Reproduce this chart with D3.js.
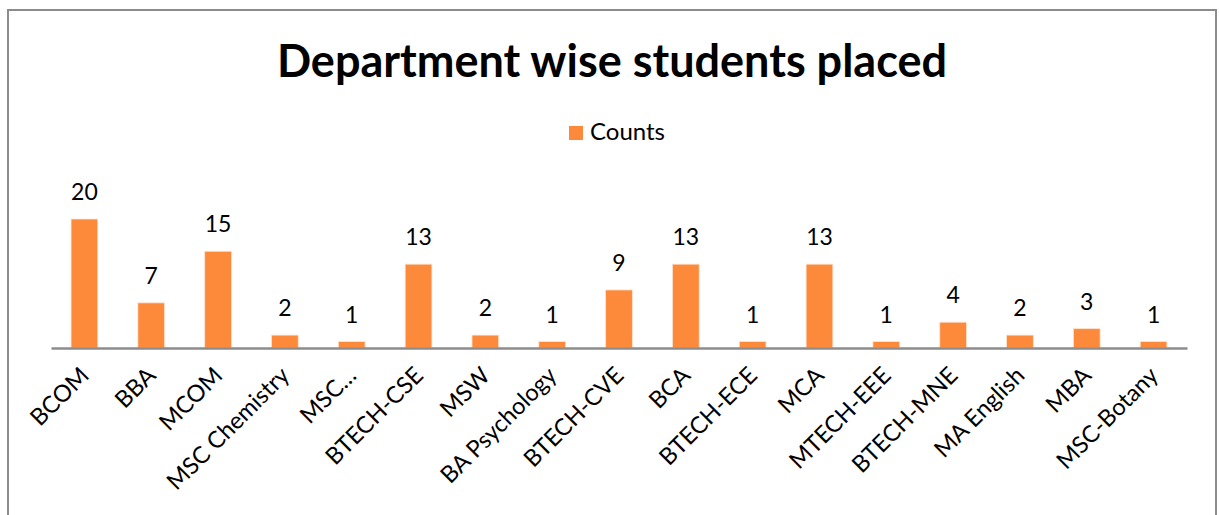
<!DOCTYPE html>
<html>
<head>
<meta charset="utf-8">
<script src="https://cdn.jsdelivr.net/npm/d3@7"></script>
<style>
  html, body { margin: 0; padding: 0; background: #fff; }
  svg { display: block; font-family: Lato, "Open Sans", sans-serif; }
</style>
</head>
<body>
<div id="chart"></div>
<script>
const departments = ["BCOM", "BBA", "MCOM", "MSC Chemistry", "MSC…", "BTECH-CSE", "MSW",
  "BA Psychology", "BTECH-CVE", "BCA", "BTECH-ECE", "MCA", "MTECH-EEE", "BTECH-MNE",
  "MA English", "MBA", "MSC-Botany"];
const counts = [20, 7, 15, 2, 1, 13, 2, 1, 9, 13, 1, 13, 1, 4, 2, 3, 1];
const seriesName = "Counts";
const chartTitle = "Department wise students placed";

const width = 1219;
const height = 515;
const orange = "#fd8a3b";

const svg = d3.select("#chart").append("svg")
    .attr("width", width)
    .attr("height", height);

// chart border (bottom runs off the picture)
svg.append("rect")
    .attr("x", 8).attr("y", 10)
    .attr("width", 1208).attr("height", 540)
    .attr("fill", "none")
    .attr("stroke", "#8c8c8c")
    .attr("stroke-width", 2);

const x = d3.scaleBand()
    .domain(departments)
    .range([51, 1187])
    .paddingInner(0.6)
    .paddingOuter(0.3);

const y = d3.scaleLinear()
    .domain([0, 20])
    .range([348, 219]);

// title
svg.append("text")
    .attr("x", 612).attr("y", 77)
    .attr("text-anchor", "middle")
    .attr("font-weight", "bold")
    .attr("font-size", 45)
    .attr("fill", "#000")
    .text(chartTitle);

// legend
const legend = svg.append("g").attr("transform", "translate(569,126)");
legend.append("rect").attr("width", 14).attr("height", 14).attr("fill", orange);
legend.append("text")
    .attr("x", 21).attr("y", 14)
    .attr("font-size", 24)
    .attr("fill", "#000")
    .text(seriesName);

// bars
svg.append("g")
  .selectAll("rect")
  .data(counts)
  .join("rect")
    .attr("x", (d, i) => x(departments[i]))
    .attr("y", d => y(d))
    .attr("width", x.bandwidth())
    .attr("height", d => y(0) - y(d))
    .attr("fill", orange)
    .attr("stroke", "#fde3cf")
    .attr("stroke-width", 0.8);

// value labels
svg.append("g")
  .selectAll("text")
  .data(counts)
  .join("text")
    .attr("x", (d, i) => x(departments[i]) + x.bandwidth() / 2)
    .attr("y", d => y(d) - 19)
    .attr("text-anchor", "middle")
    .attr("font-size", 23)
    .attr("fill", "#000")
    .text(d => d);

// x axis
const xAxis = svg.append("g")
    .attr("transform", `translate(0,${y(0)})`)
    .call(d3.axisBottom(x).tickSize(0).tickSizeOuter(0));

xAxis.select(".domain")
    .attr("stroke", "#8c8c8c")
    .attr("stroke-width", 2.5);

xAxis.selectAll(".tick text")
    .attr("font-family", "Lato, 'Open Sans', sans-serif")
    .attr("font-size", 23.5)
    .attr("fill", "#000")
    .attr("text-anchor", "end")
    .attr("dy", null)
    .attr("y", 0)
    .attr("transform", "translate(6,29) rotate(-45)");
</script>
</body>
</html>
